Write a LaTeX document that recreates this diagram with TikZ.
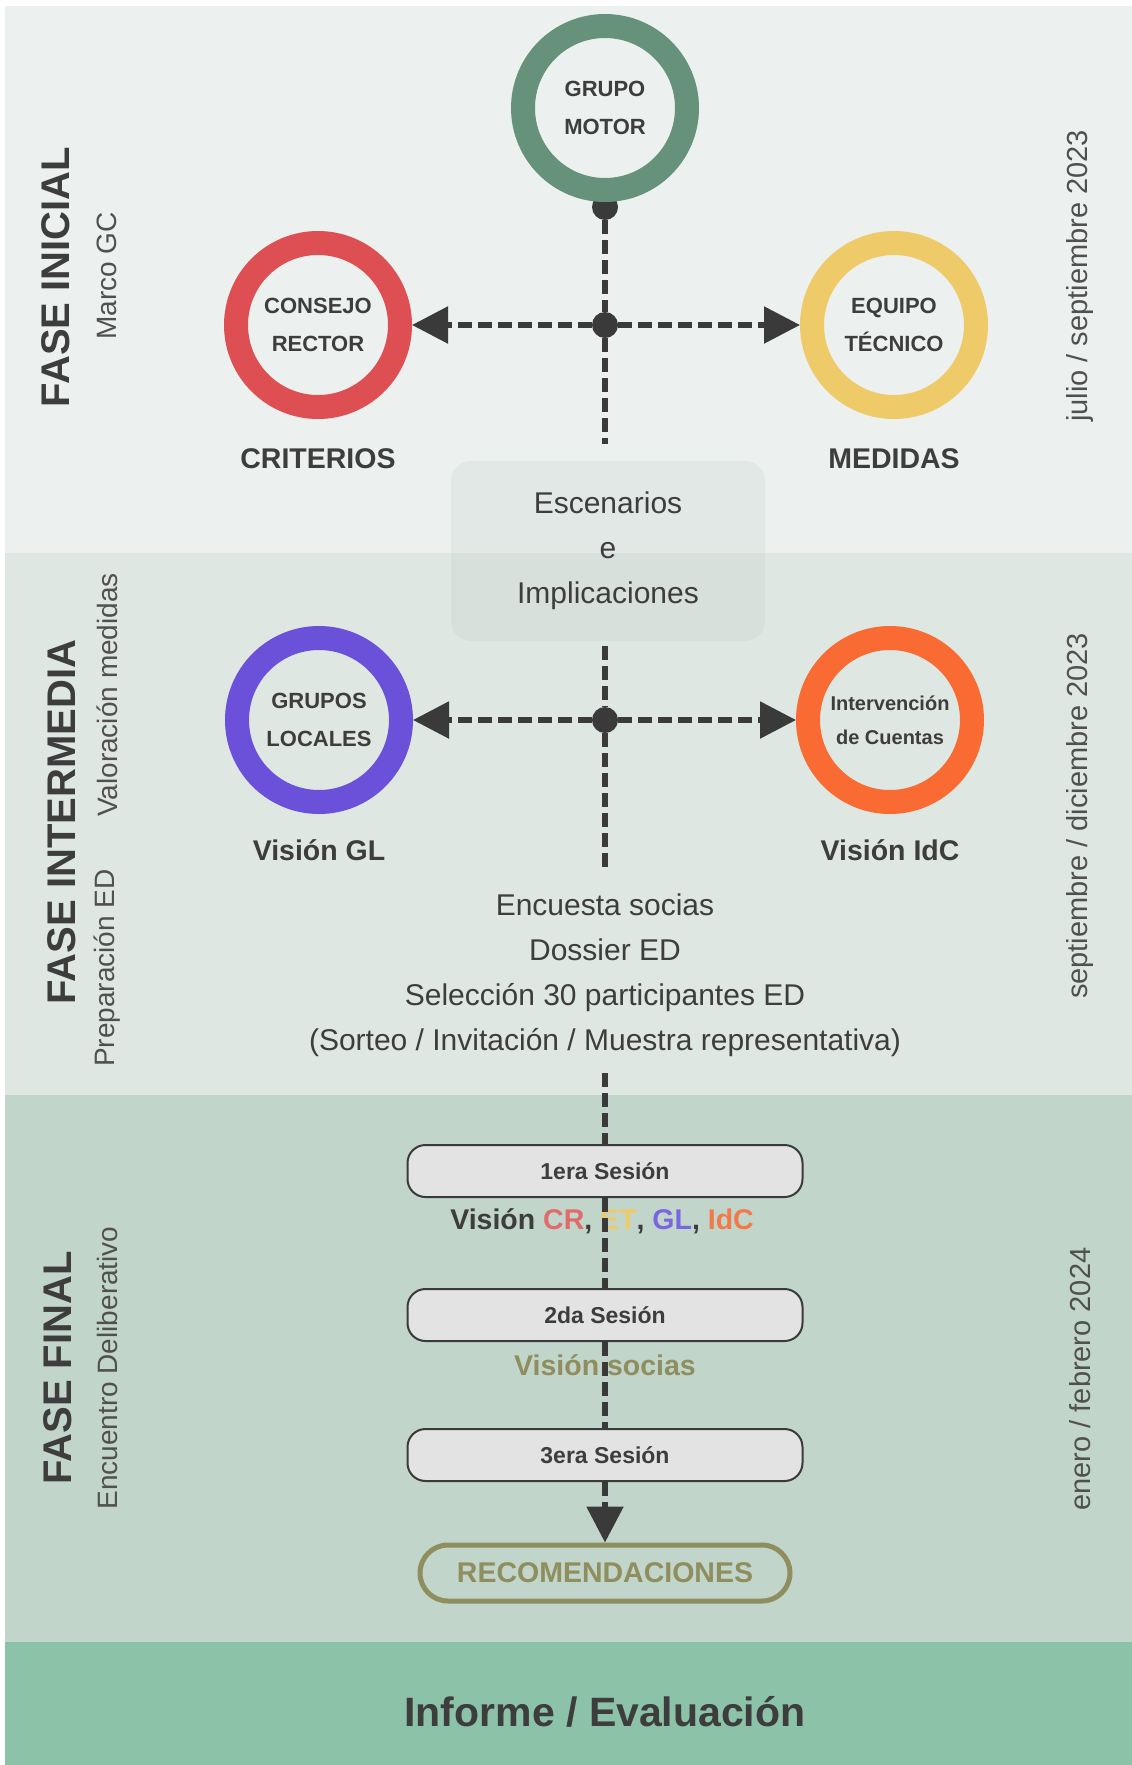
\documentclass[tikz,border=0pt]{standalone}
\usepackage{fontspec}
\setmainfont{Liberation Sans}
\usetikzlibrary{arrows.meta}
\definecolor{bandA}{HTML}{ECF0EF}
\definecolor{bandB}{HTML}{DFE7E2}
\definecolor{bandC}{HTML}{C2D5CA}
\definecolor{bandD}{HTML}{8CC3A8}
\definecolor{txt}{HTML}{3D3D3D}
\definecolor{subtxt}{HTML}{505050}
\definecolor{ln}{HTML}{3A3A3A}
\definecolor{gmc}{HTML}{66917A}
\definecolor{crc}{HTML}{DE4F53}
\definecolor{etc}{HTML}{EFCA69}
\definecolor{glc}{HTML}{6B50D9}
\definecolor{idcc}{HTML}{F96B33}
\definecolor{vcr}{HTML}{E06B6B}
\definecolor{vgl}{HTML}{7A66E0}
\definecolor{vidc}{HTML}{F27A48}
\definecolor{oliva}{HTML}{8E8E5E}
\definecolor{ses}{HTML}{E3E3E3}
\definecolor{escfill}{HTML}{92A994}

\begin{document}
\begin{tikzpicture}[x=1pt,y=-1pt]
\tikzset{ring/.style={circle,draw=#1,line width=24pt,minimum size=164pt,inner sep=0pt,align=center,text=txt,font=\bfseries\fontsize{22}{38}\selectfont}}
\tikzset{dot/.style={circle,fill=ln,inner sep=0pt,minimum size=26pt}}
\tikzset{dline/.style={draw=ln,line width=5.5pt,dash pattern=on 14pt off 6pt}}
\tikzset{tip/.style={-{Triangle[length=36pt,width=36pt]}}}
\tikzset{lbl/.style={text=txt,font=\bfseries\fontsize{28.5}{34}\selectfont}}
\tikzset{body/.style={text=txt,align=center,font=\fontsize{30}{45}\selectfont}}
\tikzset{escbox/.style={body,fill=escfill,fill opacity=0.1,text opacity=1,rounded corners=20pt,minimum width=314pt,minimum height=180pt}}
\tikzset{sesion/.style={draw=ln,line width=2pt,fill=ses,rounded corners=18pt,minimum width=395pt,minimum height=52pt,text=txt,font=\bfseries\fontsize{23}{28}\selectfont}}
\tikzset{recbox/.style={draw=oliva,line width=5pt,rounded corners=28pt,minimum width=370pt,minimum height=56pt,text=oliva,font=\bfseries\fontsize{28.5}{34}\selectfont}}
\tikzset{fase/.style={rotate=90,text=txt,font=\bfseries\fontsize{40}{48}\selectfont}}
\tikzset{subfase/.style={rotate=90,text=subtxt,font=\fontsize{28}{34}\selectfont}}
\tikzset{fecha/.style={rotate=90,text=subtxt,font=\fontsize{29}{34}\selectfont}}

\useasboundingbox (0,0) rectangle (1132,1765);
\fill[white] (0,0) rectangle (1132,1765);
\fill[bandA] (5,6) rectangle (1132,553);
\fill[bandB] (5,553) rectangle (1132,1095);
\fill[bandC] (5,1095) rectangle (1132,1642);
\fill[bandD] (5,1642) rectangle (1132,1765);

\node[fase] (f1) at (56,277) {FASE INICIAL};
\node[subfase] (f1s) at (107,276) {Marco GC};
\node[fase] (f2) at (62,822) {FASE INTERMEDIA};
\node[subfase] (f2a) at (107,695) {Valoración medidas};
\node[subfase] (f2b) at (107,968) {Preparación ED};
\node[fase] (f3) at (58,1368) {FASE FINAL};
\node[subfase] (f3s) at (107,1368) {Encuentro Deliberativo};
\node[fecha] (t1) at (1080,276) {julio / septiembre 2023};
\node[fecha] (t2) at (1080,816) {septiembre / diciembre 2023};
\node[fecha] (t3) at (1080,1379) {enero / febrero 2024};

\node[dot] (d0) at (605,207) {};
\node[dot] (j1) at (605,325) {};
\coordinate (e1) at (605,444);
\draw[dline] (d0) -- (j1) -- (e1);
\node[ring=gmc] (gm) at (605,108) {GRUPO\\MOTOR};
\node[ring=crc] (cr) at (318,325) {CONSEJO\\RECTOR};
\node[ring=etc] (et) at (894,325) {EQUIPO\\TÉCNICO};
\draw[dline,tip] (j1) -- (cr);
\draw[dline,tip] (j1) -- (et);
\node[lbl] (crit) at (318,459) {CRITERIOS};
\node[lbl] (med) at (894,459) {MEDIDAS};

\node[escbox] (esc) at (608,551) {Escenarios\\e\\Implicaciones};

\node[dot] (j2) at (605,720) {};
\coordinate (a2) at (605,646);
\coordinate (e2) at (605,867);
\draw[dline] (a2) -- (j2) -- (e2);
\node[ring=glc] (gl) at (319,720) {GRUPOS\\LOCALES};
\node[ring=idcc,font=\bfseries\fontsize{20}{34}\selectfont] (idc) at (890,720) {Intervención\\de Cuentas};
\draw[dline,tip] (j2) -- (gl);
\draw[dline,tip] (j2) -- (idc);
\node[lbl] (vgl) at (319,850) {Visión GL};
\node[lbl] (vidc) at (890,850) {Visión IdC};
\node[body] (prep) at (605,975) {Encuesta socias\\Dossier ED\\Selección 30 participantes ED\\(Sorteo / Invitación / Muestra representativa)};

\coordinate (a3) at (605,1073);
\node[sesion] (s1) at (605,1171) {1era Sesión};
\node[sesion] (s2) at (605,1315) {2da Sesión};
\node[sesion] (s3) at (605,1455) {3era Sesión};
\node[recbox] (rec) at (605,1573) {RECOMENDACIONES};
\node[lbl] (v1) at (602,1221) {Visión \textcolor{vcr}{CR}, \textcolor{etc}{ET}, \textcolor{vgl}{GL}, \textcolor{vidc}{IdC}};
\node[lbl,text=oliva] (v2) at (605,1365) {Visión socias};
\draw[dline] (a3) -- (s1);
\draw[dline] (s1) -- (s2);
\draw[dline] (s2) -- (s3);
\draw[dline,tip] (s3) -- (rec);

\node[text=txt,font=\bfseries\fontsize{41}{48}\selectfont] (inf) at (605,1712) {Informe / Evaluación};
\end{tikzpicture}
\end{document}
